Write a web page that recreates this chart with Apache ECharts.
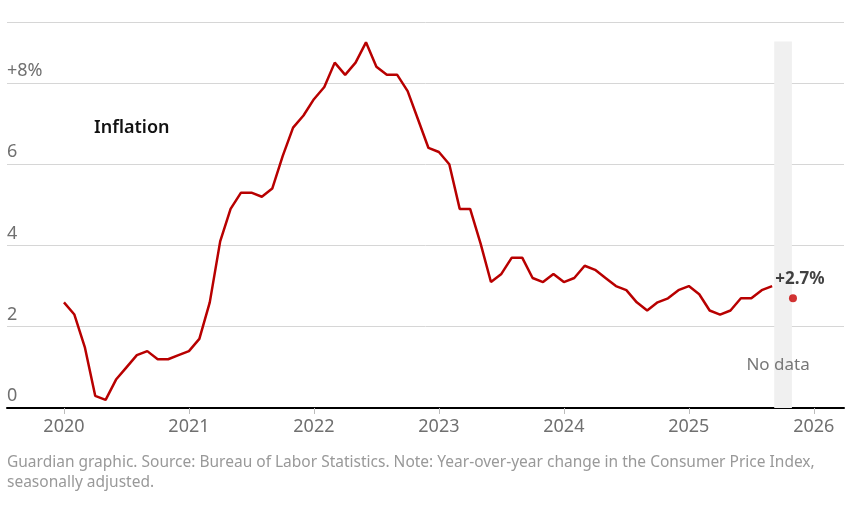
<!DOCTYPE html>
<html>
<head>
<meta charset="utf-8">
<script src="https://cdn.jsdelivr.net/npm/echarts@6/dist/echarts.min.js"></script>
<style>
  html, body { margin: 0; padding: 0; background: #fff; }
  #chart { width: 855px; height: 510px; }
</style>
</head>
<body>
<div id="chart"></div>
<script>
// months since Jan 2020, CPI year-over-year change (%)
const months = [];
for (let i = 0; i <= 68; i++) months.push(i);
const inflation = [
  2.6, 2.3, 1.5, 0.3, 0.2, 0.7, 1.0, 1.3, 1.4, 1.2, 1.2, 1.3,
  1.4, 1.7, 2.6, 4.1, 4.9, 5.3, 5.3, 5.2, 5.4, 6.2, 6.9, 7.2,
  7.6, 7.9, 8.5, 8.2, 8.5, 9.0, 8.4, 8.2, 8.2, 7.8, 7.1, 6.4,
  6.3, 6.0, 4.9, 4.9, 4.05, 3.1, 3.3, 3.7, 3.7, 3.2, 3.1, 3.3,
  3.1, 3.2, 3.5, 3.4, 3.2, 3.0, 2.9, 2.6, 2.4, 2.6, 2.7, 2.9,
  3.0, 2.8, 2.4, 2.3, 2.4, 2.7, 2.7, 2.9, 3.0
];
const latestMonth = 70;   // Nov 2025
const latestValue = 2.7;
const gapStart = 68.2;    // no data band
const gapEnd = 69.9;
const yearTicks = [0, 12, 24, 36, 48, 60, 72];
const yearLabels = ['2020', '2021', '2022', '2023', '2024', '2025', '2026'];

const chart = echarts.init(document.getElementById('chart'));

chart.setOption({
  animation: false,
  textStyle: { fontFamily: 'Noto Sans' },
  title: {
    text: 'Inflation',
    left: 89,
    top: 114,
    textStyle: { fontSize: 18, fontWeight: 600, color: '#121212', fontFamily: 'Noto Sans' }
  },
  grid: { left: 7, right: 11, top: 22, bottom: 102 },
  xAxis: {
    type: 'value',
    min: -5.47,
    max: 74.9,
    splitLine: { show: false },
    axisLine: { show: true, onZero: false, lineStyle: { color: '#000', width: 2 } },
    axisTick: { show: true, customValues: yearTicks, length: 6, lineStyle: { color: '#bbb' } },
    axisLabel: {
      customValues: yearTicks,
      margin: 10,
      fontSize: 18,
      color: '#707070',
      formatter: (v) => yearLabels[yearTicks.indexOf(v)] || ''
    }
  },
  yAxis: {
    type: 'value',
    min: 0,
    max: 9.5,
    interval: 2,
    axisLine: { show: false },
    axisTick: { show: false },
    splitLine: { lineStyle: { color: '#d6d6d6', width: 1 } },
    axisLabel: {
      inside: true,
      margin: 0,
      verticalAlign: 'bottom',
      padding: [0, 0, 3, 0],
      fontSize: 18,
      color: '#707070',
      formatter: (v) => (v === 8 ? '+8%' : v > 8 ? '' : String(v))
    }
  },
  series: [
    {
      type: 'line',
      data: months.map((m, i) => [m, inflation[i]]),
      symbol: 'none',
      lineStyle: { color: '#b80000', width: 2.5 },
      z: 3,
      markArea: {
        silent: true,
        itemStyle: { color: '#f0f0f0' },
        label: {
          show: true,
          position: 'insideBottom',
          distance: 34,
          offset: [-5, 0],
          color: '#777',
          fontSize: 17,
          formatter: 'No data'
        },
        data: [[{ xAxis: gapStart, yAxis: 0 }, { xAxis: gapEnd, yAxis: 9.02 }]]
      }
    },
    {
      type: 'scatter',
      data: [[latestMonth, latestValue]],
      symbolSize: 8,
      itemStyle: { color: '#c70000' },
      z: 4,
      label: {
        show: true,
        position: 'top',
        distance: 7,
        offset: [7, 0],
        color: '#121212',
        fontWeight: 'bold',
        fontSize: 17,
        formatter: '+2.7%'
      }
    }
  ],
  graphic: [
    {
      type: 'text',
      left: 7,
      top: 453,
      style: {
        text: 'Guardian graphic. Source: Bureau of Labor Statistics. Note: Year-over-year change in the Consumer Price Index,\nseasonally adjusted.',
        fill: '#999',
        fontSize: 15.5,
        lineHeight: 20,
        fontFamily: 'Noto Sans'
      }
    }
  ]
});
</script>
</body>
</html>
